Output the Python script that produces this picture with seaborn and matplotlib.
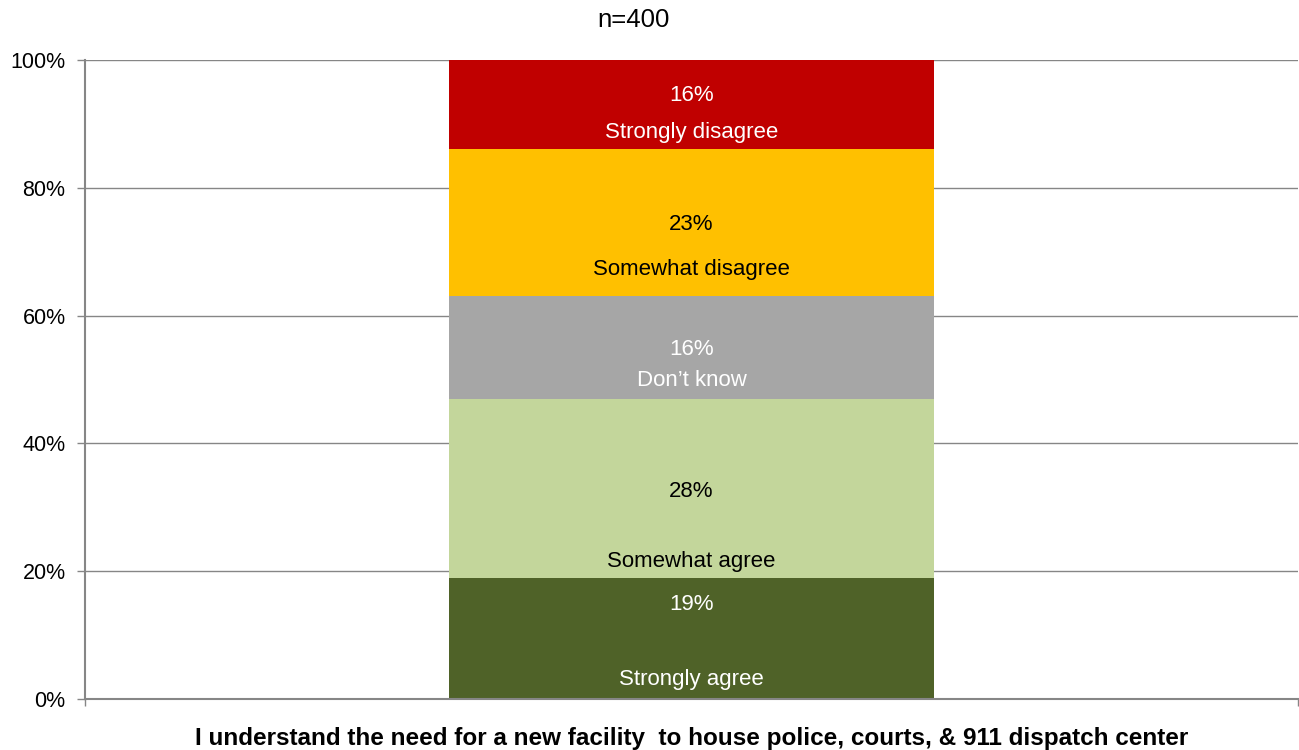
import seaborn as sns
import matplotlib.pyplot as plt
import pandas as pd

# Survey response shares (segment heights, bottom to top)
question = 'I understand the need for a new facility  to house police, courts, & 911 dispatch center'
responses = ['Strongly agree', 'Somewhat agree', 'Don\u2019t know', 'Somewhat disagree', 'Strongly disagree']
shares = [19, 28, 16, 23, 14]
share_labels = ['19%', '28%', '16%', '23%', '16%']
colors = ['#4F6228', '#C3D69B', '#A6A6A6', '#FFC000', '#C00000']
text_colors = ['white', 'black', 'white', 'black', 'white']
subtitle = 'n=400'

df = pd.DataFrame({'response': responses, 'share': shares})
df['bottom'] = df['share'].cumsum() - df['share']

sns.set_style("white")
plt.rcParams['font.family'] = ['Liberation Sans', 'DejaVu Sans']
plt.rcParams['text.color'] = 'black'

fig = plt.figure(figsize=(12.99, 7.5), dpi=100)
ax = fig.add_axes([0.0654, 0.068, 0.9338, 0.852])

grid_color = '#868686'
for yv in [20, 40, 60, 80, 100]:
    ax.axhline(yv, color=grid_color, lw=1.0, zorder=0)

for i, row in df.iterrows():
    sns.barplot(x=[question], y=[row['share']], bottom=row['bottom'],
                color=colors[i], width=0.4, saturation=1, linewidth=0,
                ax=ax, zorder=2)

# label offsets inside each segment (number label, category label) as fraction of segment
offsets = [(0.78, 0.16), (0.48, 0.09), (0.48, 0.175), (0.49, 0.183), (0.6, 0.186)]
for i, row in df.iterrows():
    top_frac, name_frac = offsets[i]
    y_num = row['bottom'] + row['share'] * top_frac
    y_name = row['bottom'] + row['share'] * name_frac
    ax.text(0, y_num, share_labels[i], ha='center', va='center',
            fontsize=16, color=text_colors[i], zorder=3)
    ax.text(0, y_name, row['response'], ha='center', va='center',
            fontsize=16, color=text_colors[i], zorder=3)

ax.set_xlim(-0.5, 0.5)
ax.set_ylim(0, 100)
ax.set_yticks([0, 20, 40, 60, 80, 100])
ax.set_yticklabels([f'{v}%' for v in [0, 20, 40, 60, 80, 100]], fontsize=15.5, color='black')
ax.set_xticks([-0.5, 0.5])
ax.set_xticklabels(['', ''])
ax.tick_params(axis='y', length=6, width=1, color=grid_color, direction='out', pad=8, left=True)
ax.tick_params(axis='x', length=5, width=1, color=grid_color, direction='out', bottom=True)

for side in ['top', 'right']:
    ax.spines[side].set_visible(False)
for side in ['left', 'bottom']:
    ax.spines[side].set_color(grid_color)
    ax.spines[side].set_linewidth(1.5)

ax.set_ylabel('')
ax.set_xlabel(question, fontsize=17.5, fontweight='bold', labelpad=12, color='black')
fig.text(0.488, 0.973, subtitle, ha='center', va='center', fontsize=18.5, color='black')

plt.savefig('out.png', dpi=100)
